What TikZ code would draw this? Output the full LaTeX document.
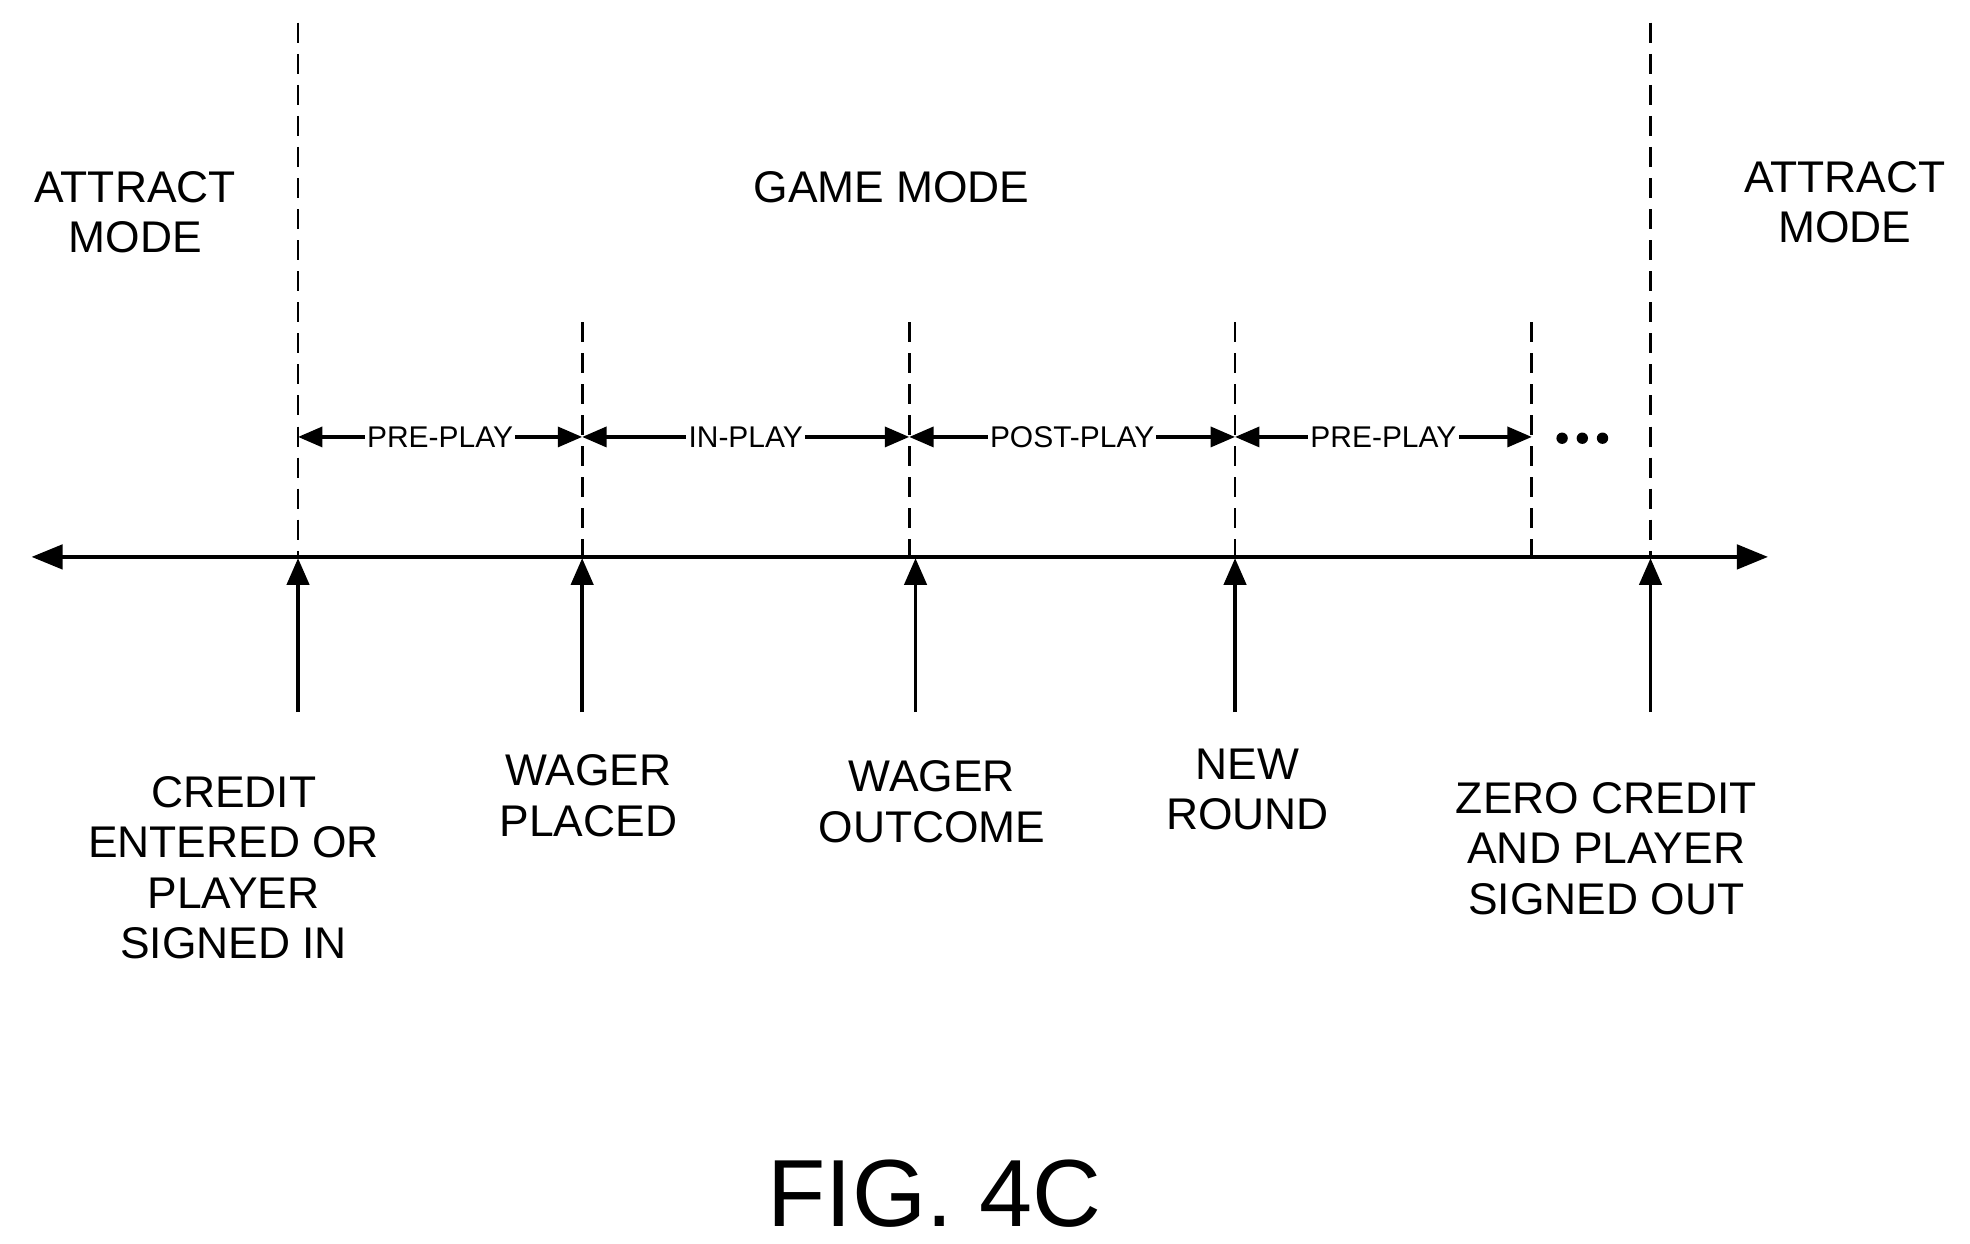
\documentclass[tikz,border=0pt]{standalone}
\usepackage{fontspec}
\setmainfont{Liberation Sans}
\usetikzlibrary{arrows.meta}
\begin{document}
\begin{tikzpicture}[x=0.02cm,y=-0.02cm,
  ln/.style={line width=1.6pt},
  dsh/.style={line width=1.3pt,dash pattern=on 9pt off 5pt},
  tip/.style={-{Triangle[length=12pt,width=10pt]}},
  span/.style={line width=1.6pt,{Triangle[length=11pt,width=9pt]}-{Triangle[length=11pt,width=9pt]}},
  sl/.style={fill=white,inner sep=1pt,font=\fontsize{13.5}{14}\selectfont},
  lbl/.style={align=center,font=\fontsize{20}{22.7}\selectfont}]
\useasboundingbox (0,0) rectangle (1560,985);
% axis
\coordinate (L) at (25,441); \coordinate (R) at (1400,441);
\draw[ln,{Triangle[length=14pt,width=11pt]}-{Triangle[length=14pt,width=11pt]}] (L) -- (R);
% dashed
\coordinate (sa) at (236,346); \coordinate (sb) at (461,346); \coordinate (sc) at (720,346);
\coordinate (sd) at (978,346); \coordinate (se) at (1213,346);
\foreach \n/\x/\t in {a/236/18,b/461/255,c/720/255,d/978/255,e/1213/255,f/1307/18}{
  \coordinate (top\n) at (\x,\t); \coordinate (ax\n) at (\x,440);
  \draw[dsh] (top\n) -- (ax\n);}
% spans
\draw[span] (sa) -- node[sl]{PRE-PLAY} (sb);
\draw[span] (sb) -- node[sl]{IN-PLAY} (sc);
\draw[span] (sc) -- node[sl]{POST-PLAY} (sd);
\draw[span] (sd) -- node[sl]{PRE-PLAY} (se);
\foreach \x in {1237,1253,1269}{\fill (\x,347) circle (4.5);}
% up arrows
\foreach \n/\x in {A/236,B/461,C/725,D/978,F/1307}{
  \coordinate (bot\n) at (\x,564); \coordinate (tp\n) at (\x,442);
  \draw[ln,tip] (bot\n) -- (tp\n);}
% texts
\node[lbl] (am1) at (107,168) {ATTRACT\\MODE};
\node[lbl] (gm) at (706,148) {GAME MODE};
\node[lbl] (am2) at (1461,160) {ATTRACT\\MODE};
\node[lbl] (t1) at (185,687) {CREDIT\\ENTERED OR\\PLAYER\\SIGNED IN};
\node[lbl] (t2) at (466,630) {WAGER\\PLACED};
\node[lbl] (t3) at (738,635) {WAGER\\OUTCOME};
\node[lbl] (t4) at (988,625) {NEW\\ROUND};
\node[lbl] (t5) at (1272,672) {ZERO CREDIT\\AND PLAYER\\SIGNED OUT};
\node[font=\fontsize{43}{48}\selectfont] (fig) at (740,945) {FIG. 4C};
\end{tikzpicture}
\end{document}
